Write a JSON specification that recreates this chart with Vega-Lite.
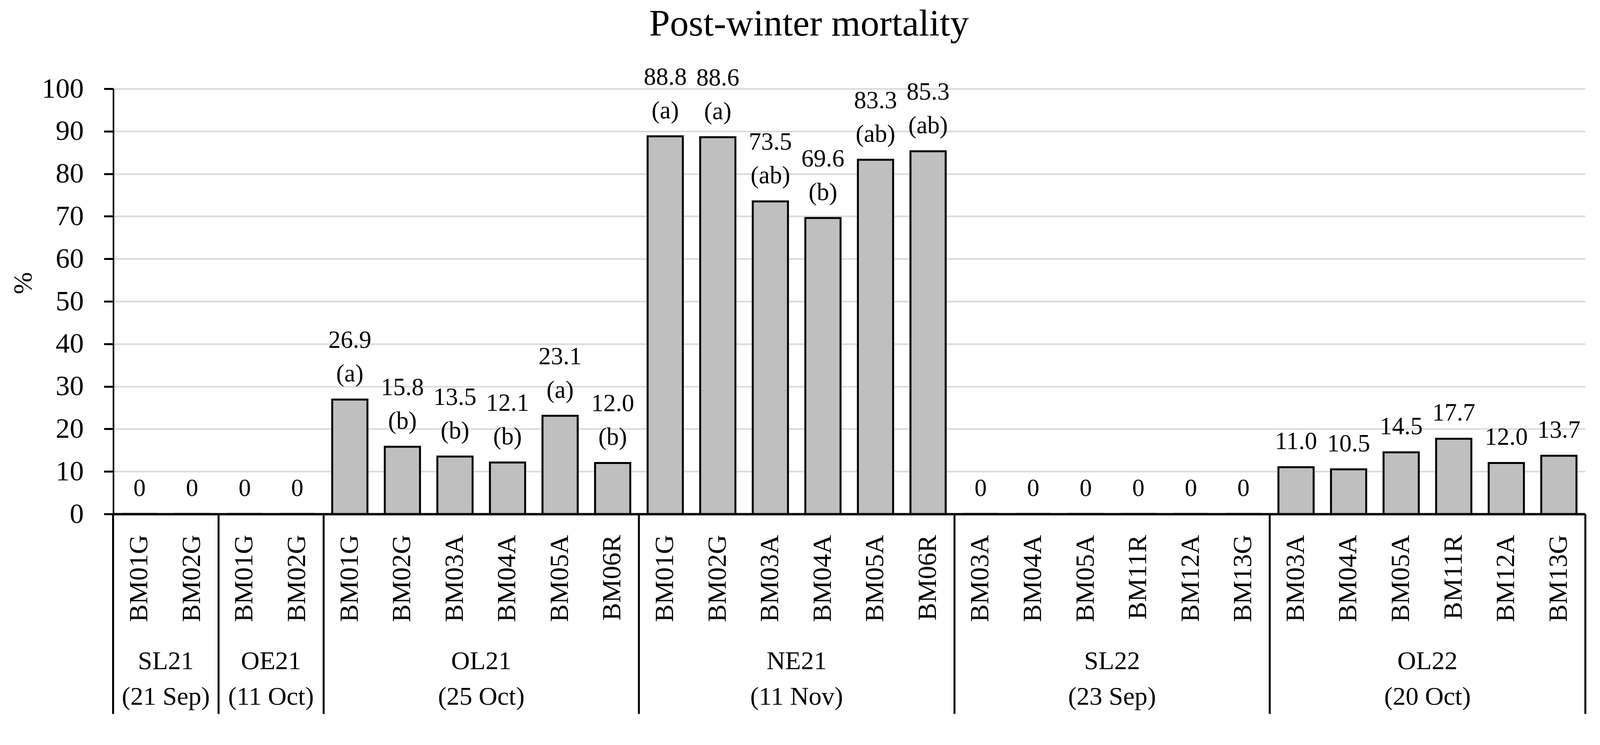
{
  "$schema": "https://vega.github.io/schema/vega-lite/v6.json",
  "width": 3768,
  "height": 1088,
  "autosize": {"type": "none"},
  "padding": {"left": 290, "top": 227, "right": 38, "bottom": 542},
  "title": {
    "text": "Post-winter mortality",
    "fontSize": 96,
    "fontWeight": "normal",
    "anchor": "middle",
    "frame": "group",
    "baseline": "alphabetic",
    "dx": -103,
    "offset": -20
  },
  "data": {
    "values": [
      {"grp": "SL21", "date": "(21 Sep)", "strain": "BM01G", "v": 0, "sig": ""},
      {"grp": "SL21", "date": "(21 Sep)", "strain": "BM02G", "v": 0, "sig": ""},
      {"grp": "OE21", "date": "(11 Oct)", "strain": "BM01G", "v": 0, "sig": ""},
      {"grp": "OE21", "date": "(11 Oct)", "strain": "BM02G", "v": 0, "sig": ""},
      {"grp": "OL21", "date": "(25 Oct)", "strain": "BM01G", "v": 26.9, "sig": "(a)"},
      {"grp": "OL21", "date": "(25 Oct)", "strain": "BM02G", "v": 15.8, "sig": "(b)"},
      {"grp": "OL21", "date": "(25 Oct)", "strain": "BM03A", "v": 13.5, "sig": "(b)"},
      {"grp": "OL21", "date": "(25 Oct)", "strain": "BM04A", "v": 12.1, "sig": "(b)"},
      {"grp": "OL21", "date": "(25 Oct)", "strain": "BM05A", "v": 23.1, "sig": "(a)"},
      {"grp": "OL21", "date": "(25 Oct)", "strain": "BM06R", "v": 12.0, "sig": "(b)"},
      {"grp": "NE21", "date": "(11 Nov)", "strain": "BM01G", "v": 88.8, "sig": "(a)"},
      {"grp": "NE21", "date": "(11 Nov)", "strain": "BM02G", "v": 88.6, "sig": "(a)"},
      {"grp": "NE21", "date": "(11 Nov)", "strain": "BM03A", "v": 73.5, "sig": "(ab)"},
      {"grp": "NE21", "date": "(11 Nov)", "strain": "BM04A", "v": 69.6, "sig": "(b)"},
      {"grp": "NE21", "date": "(11 Nov)", "strain": "BM05A", "v": 83.3, "sig": "(ab)"},
      {"grp": "NE21", "date": "(11 Nov)", "strain": "BM06R", "v": 85.3, "sig": "(ab)"},
      {"grp": "SL22", "date": "(23 Sep)", "strain": "BM03A", "v": 0, "sig": ""},
      {"grp": "SL22", "date": "(23 Sep)", "strain": "BM04A", "v": 0, "sig": ""},
      {"grp": "SL22", "date": "(23 Sep)", "strain": "BM05A", "v": 0, "sig": ""},
      {"grp": "SL22", "date": "(23 Sep)", "strain": "BM11R", "v": 0, "sig": ""},
      {"grp": "SL22", "date": "(23 Sep)", "strain": "BM12A", "v": 0, "sig": ""},
      {"grp": "SL22", "date": "(23 Sep)", "strain": "BM13G", "v": 0, "sig": ""},
      {"grp": "OL22", "date": "(20 Oct)", "strain": "BM03A", "v": 11.0, "sig": ""},
      {"grp": "OL22", "date": "(20 Oct)", "strain": "BM04A", "v": 10.5, "sig": ""},
      {"grp": "OL22", "date": "(20 Oct)", "strain": "BM05A", "v": 14.5, "sig": ""},
      {"grp": "OL22", "date": "(20 Oct)", "strain": "BM11R", "v": 17.7, "sig": ""},
      {"grp": "OL22", "date": "(20 Oct)", "strain": "BM12A", "v": 12.0, "sig": ""},
      {"grp": "OL22", "date": "(20 Oct)", "strain": "BM13G", "v": 13.7, "sig": ""}
    ]
  },
  "transform": [
    {"calculate": "datum.grp + '|' + datum.date + '|' + datum.strain", "as": "key"},
    {"calculate": "datum.v == 0 ? '0' : format(datum.v, '.1f')", "as": "num"},
    {"calculate": "datum.sig ? [datum.num, datum.sig] : ['', datum.num]", "as": "lab"}
  ],
  "layer": [
    {
      "mark": {"type": "bar", "fill": "#bfbfbf", "stroke": "black", "strokeWidth": 5, "width": {"band": 0.67}},
      "encoding": {
        "x": {
          "field": "key",
          "type": "nominal",
          "sort": null,
          "scale": {"paddingInner": 0, "paddingOuter": 0},
          "axis": {
            "orient": "bottom",
            "title": null,
            "grid": false,
            "labelExpr": "split(datum.value, '|')[2]",
            "labelAngle": 270,
            "labelAlign": "right",
            "labelBaseline": "middle",
            "labelFontSize": 68,
            "labelLimit": 1000,
            "labelPadding": -458,
            "bandPosition": 0,
            "domainColor": "black",
            "domainWidth": 6,
            "ticks": true,
            "tickSize": 511,
            "tickWidth": 5,
            "tickColor": "black",
            "tickOpacity": {
              "condition": {
                "test": "indexof(['SL21|(21 Sep)|BM01G','OE21|(11 Oct)|BM01G','OL21|(25 Oct)|BM01G','NE21|(11 Nov)|BM01G','SL22|(23 Sep)|BM03A','OL22|(20 Oct)|BM03A'], datum.value) >= 0",
                "value": 1
              },
              "value": 0
            }
          }
        },
        "y": {
          "field": "v",
          "type": "quantitative",
          "scale": {"domain": [0, 100], "nice": false},
          "axis": {
            "title": "%",
            "titleFontSize": 68,
            "titleFontWeight": "normal",
            "titlePadding": 12,
            "titleY": 497,
            "values": [0, 10, 20, 30, 40, 50, 60, 70, 80, 90, 100],
            "labelFontSize": 72,
            "labelPadding": 52,
            "tickSize": 24,
            "tickWidth": 5,
            "tickColor": "black",
            "domainColor": "black",
            "domainWidth": 4,
            "gridColor": "#d9d9d9",
            "gridWidth": 4
          }
        }
      }
    },
    {
      "mark": {"type": "text", "baseline": "bottom", "fontSize": 63, "lineHeight": 86, "dy": -119, "color": "black"},
      "encoding": {
        "x": {
          "field": "key",
          "type": "nominal",
          "sort": null,
          "axis": {
            "orient": "bottom",
            "title": null,
            "grid": false,
            "domain": false,
            "labelExpr": "indexof(['SL21|(21 Sep)|BM01G','OE21|(11 Oct)|BM01G','OL21|(25 Oct)|BM03A','NE21|(11 Nov)|BM03A','SL22|(23 Sep)|BM05A','OL22|(20 Oct)|BM05A'], datum.value) >= 0 ? slice(split(datum.value, '|'), 0, 2) : ''",
            "labelAngle": 0,
            "labelAlign": "center",
            "labelBaseline": "top",
            "labelFontSize": 66,
            "labelLineHeight": 91,
            "labelLimit": 1000,
            "labelOffset": 67.3,
            "labelPadding": -167,
            "bandPosition": 1,
            "ticks": true,
            "tickSize": 511,
            "tickWidth": 5,
            "tickColor": "black",
            "tickOpacity": {
              "condition": {"test": "datum.value == 'OL22|(20 Oct)|BM13G'", "value": 1},
              "value": 0
            }
          }
        },
        "y": {"field": "v", "type": "quantitative"},
        "text": {"field": "lab"}
      }
    }
  ],
  "resolve": {"axis": {"x": "independent"}},
  "config": {
    "font": "Liberation Serif",
    "view": {"stroke": null},
    "axis": {"labelColor": "black", "titleColor": "black"}
  }
}
